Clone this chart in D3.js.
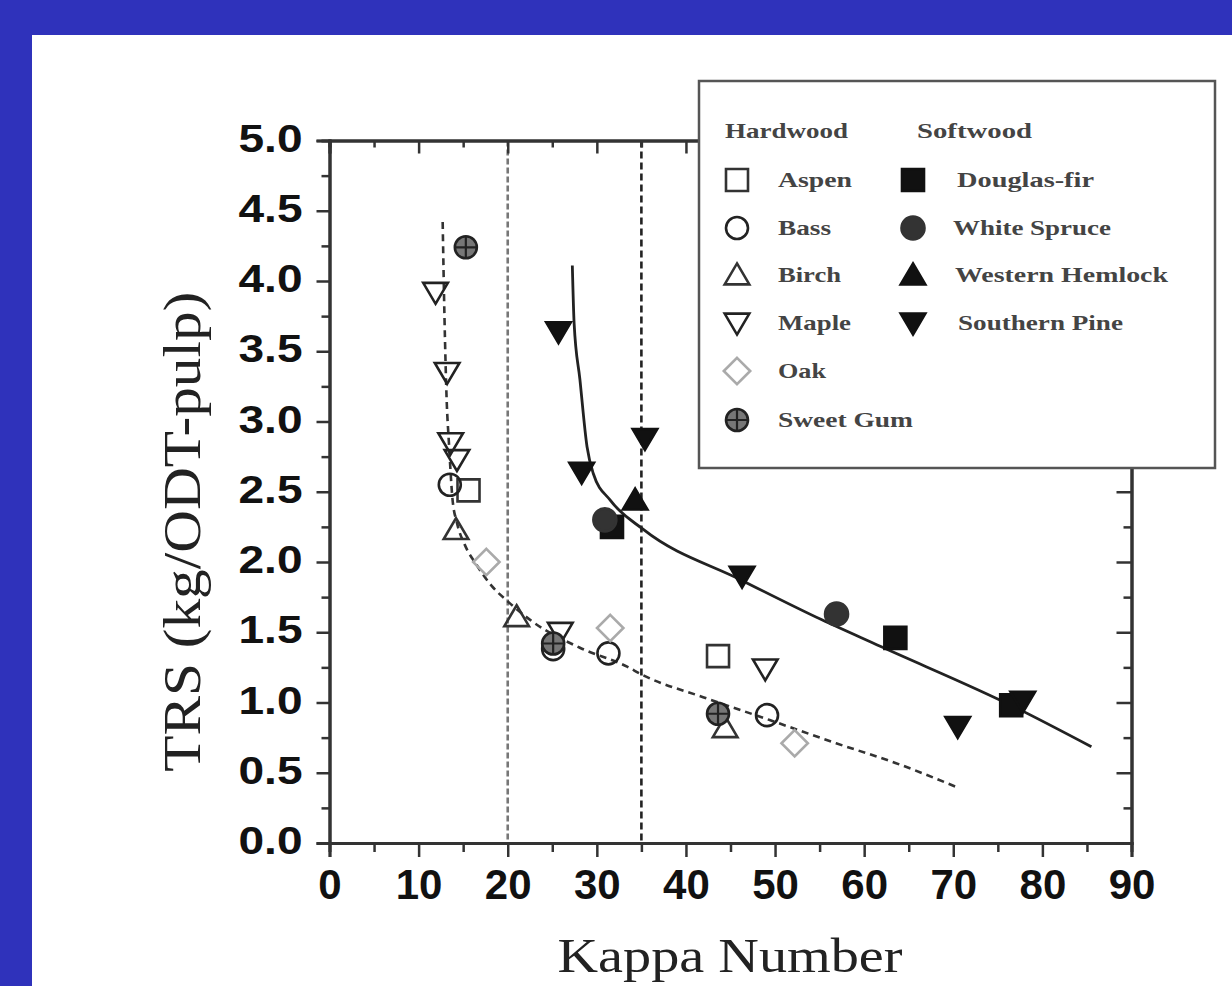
<!DOCTYPE html>
<html><head><meta charset="utf-8">
<script src="https://cdn.jsdelivr.net/npm/d3@7"></script>
<style>body{margin:0;background:#2f32bb}svg{display:block}</style>
</head><body>
<script>
// ---- data ----
const xTicks = [0,10,20,30,40,50,60,70,80,90];
const yTicks = [0,0.5,1,1.5,2,2.5,3,3.5,4,4.5,5];
const refLines = [20, 35];

const aspen = [[15.6,2.51],[43.6,1.33]];
const bass = [[13.5,2.55],[25.1,1.38],[31.3,1.35],[49.1,0.91]];
const birch = [[14.2,2.23],[21.0,1.61],[44.4,0.82]];
const maple = [[11.9,3.92],[13.2,3.35],[13.6,2.85],[14.3,2.73],[25.9,1.50],[48.9,1.24]];
const oak = [[17.6,2.0],[31.5,1.53],[52.2,0.71]];
const sweetGum = [[15.3,4.24],[25.1,1.42],[43.6,0.92]];
const douglasFir = [[31.7,2.25],[63.5,1.46],[76.5,0.98]];
const whiteSpruce = [[30.9,2.30],[56.9,1.63]];
const westernHemlock = [[34.3,2.44]];
const southernPine = [[25.7,3.64],[28.3,2.64],[35.4,2.88],[46.3,1.90],[70.5,0.83],[77.8,1.01]];

const hardwoodFit = [[12.7,4.42],[12.9,3.75],[13.15,3.15],[13.4,2.85],[13.8,2.45],[14.3,2.28],[15.2,2.12],[16.5,1.98],[18.2,1.83],[20,1.72],[22.9,1.57],[28.1,1.39],[33.4,1.255],[35,1.20],[42.3,1.03],[49.4,0.875],[56.85,0.71],[63.5,0.57],[70.3,0.40]];
const softwoodFit = [[27.25,4.11],[27.45,3.70],[28.1,3.30],[28.9,2.82],[29.6,2.63],[31.5,2.44],[35.25,2.23],[46.25,1.87],[55.2,1.59],[61.8,1.40],[76.8,0.97],[85.5,0.685]];

const hardwoodNames = ["Aspen","Bass","Birch","Maple","Oak","Sweet Gum"];
const softwoodNames = ["Douglas-fir","White Spruce","Western Hemlock","Southern Pine"];

// ---- drawing ----
const W = 1232, H = 986;
const svg = d3.select("body").append("svg").attr("width", W).attr("height", H);
svg.append("rect").attr("width", W).attr("height", H).attr("fill", "#2f32bb");
svg.append("rect").attr("x", 32).attr("y", 35).attr("width", W-32).attr("height", H-35).attr("fill", "#fff");

const x = d3.scaleLinear().domain([0,90]).range([329.5,1131.5]);
const y = d3.scaleLinear().domain([0,5]).range([843,140.5]);

// symbol path generators (centered at 0,0)
const sym = {
  square: s => `M${-s},${-s}H${s}V${s}H${-s}Z`,
  circle: s => `M${-s},0A${s},${s} 0 1,0 ${s},0A${s},${s} 0 1,0 ${-s},0Z`,
  up: s => `M0,${-s*1.05}L${s*1.12},${s*0.85}L${-s*1.12},${s*0.85}Z`,
  down: s => `M0,${s*1.05}L${s*1.12},${-s*0.85}L${-s*1.12},${-s*0.85}Z`,
  diamond: s => `M0,${-s*1.2}L${s*1.2},0L0,${s*1.2}L${-s*1.2},0Z`
};
const styles = {
  "Aspen": {shape:"square", size:11, fill:"none", stroke:"#333"},
  "Bass": {shape:"circle", size:11, fill:"none", stroke:"#222"},
  "Birch": {shape:"up", size:11, fill:"none", stroke:"#333"},
  "Maple": {shape:"down", size:11, fill:"none", stroke:"#222"},
  "Oak": {shape:"diamond", size:11, fill:"none", stroke:"#aaa"},
  "Sweet Gum": {shape:"circle", size:11, fill:"#777", stroke:"#222", cross:true},
  "Douglas-fir": {shape:"square", size:11, fill:"#111", stroke:"#111"},
  "White Spruce": {shape:"circle", size:11.5, fill:"#333", stroke:"#333"},
  "Western Hemlock": {shape:"up", size:11, fill:"#111", stroke:"#111"},
  "Southern Pine": {shape:"down", size:11, fill:"#111", stroke:"#111"}
};
function drawSym(g, name, cx, cy) {
  const st = styles[name];
  g.append("path").attr("d", sym[st.shape](st.size)).attr("transform", `translate(${cx},${cy})`)
    .attr("fill", st.fill).attr("stroke", st.stroke).attr("stroke-width", 2.6);
  if (st.cross) {
    g.append("path").attr("d", `M${cx-st.size},${cy}H${cx+st.size}M${cx},${cy-st.size}V${cy+st.size}`)
      .attr("stroke", "#222").attr("stroke-width", 2.2);
  }
}

// reference dashed lines
svg.append("line").attr("x1", x(refLines[0])).attr("x2", x(refLines[0])).attr("y1", y(5)).attr("y2", y(0))
  .attr("stroke", "#777").attr("stroke-width", 2.6).attr("stroke-dasharray", "6,3");
svg.append("line").attr("x1", x(refLines[1])).attr("x2", x(refLines[1])).attr("y1", y(5)).attr("y2", y(0))
  .attr("stroke", "#222").attr("stroke-width", 2.6).attr("stroke-dasharray", "7,4");

// fit curves
const line = d3.line().x(d => x(d[0])).y(d => y(d[1])).curve(d3.curveMonotoneX);
svg.append("path").attr("d", line(hardwoodFit)).attr("fill", "none").attr("stroke", "#333")
  .attr("stroke-width", 2.6).attr("stroke-dasharray", "7,5");
svg.append("path").attr("d", line(softwoodFit)).attr("fill", "none").attr("stroke", "#222").attr("stroke-width", 2.8);

// points
const series = [["Aspen",aspen],["Bass",bass],["Birch",birch],["Maple",maple],["Oak",oak],["Sweet Gum",sweetGum],
  ["Douglas-fir",douglasFir],["White Spruce",whiteSpruce],["Western Hemlock",westernHemlock],["Southern Pine",southernPine]];
const pts = svg.append("g");
series.forEach(([name, data]) => data.forEach(d => drawSym(pts, name, x(d[0]), y(d[1]))));

// axes
const minorY = d3.range(0.25, 5, 0.5);
const minorX = d3.range(5, 90, 10);
const axL = svg.append("g").attr("transform", `translate(${x(0)},0)`)
  .call(d3.axisLeft(y).tickValues(yTicks).tickSize(13).tickFormat(d3.format(".1f")).tickPadding(14));
svg.append("g").attr("transform", `translate(${x(0)},0)`).call(d3.axisLeft(y).tickValues(minorY).tickSize(8).tickFormat(""));
const axB = svg.append("g").attr("transform", `translate(0,${y(0)})`)
  .call(d3.axisBottom(x).tickValues(xTicks).tickSize(14).tickFormat(d3.format("d")).tickPadding(12));
svg.append("g").attr("transform", `translate(0,${y(0)})`).call(d3.axisBottom(x).tickValues(minorX).tickSize(9).tickFormat(""));
svg.append("g").attr("transform", `translate(0,${y(5)})`).call(d3.axisBottom(x).tickValues(minorX).tickSize(7).tickFormat(""));
svg.append("g").attr("transform", `translate(0,${y(5)})`).call(d3.axisBottom(x).tickValues(xTicks).tickSize(13).tickFormat(""));
svg.append("g").attr("transform", `translate(${x(90)},0)`).call(d3.axisLeft(y).tickValues(yTicks).tickSize(15).tickFormat(""));
svg.append("g").attr("transform", `translate(${x(90)},0)`).call(d3.axisLeft(y).tickValues(minorY).tickSize(8).tickFormat(""));
svg.selectAll(".domain").attr("stroke", "#333").attr("stroke-width", 3);
svg.selectAll(".tick line").attr("stroke", "#333").attr("stroke-width", 2.5);
axL.selectAll("text").attr("font-family", "Liberation Sans, Arial, sans-serif").attr("font-weight", "bold")
  .attr("font-size", 38).attr("fill", "#111").attr("textLength", 64).attr("lengthAdjust", "spacingAndGlyphs")
  .attr("dy", "0.28em");
axB.selectAll("text").attr("font-family", "Liberation Sans, Arial, sans-serif").attr("font-weight", "bold")
  .attr("font-size", 42).attr("fill", "#111");

// axis titles
svg.append("text").attr("x", 730).attr("y", 972).attr("text-anchor", "middle")
  .attr("font-family", "Liberation Serif, Times New Roman, serif").attr("font-size", 48).attr("fill", "#222")
  .attr("textLength", 345).attr("lengthAdjust", "spacingAndGlyphs").text("Kappa Number");
svg.append("text").attr("transform", `translate(200,${(y(0)+y(5))/2+40}) rotate(-90)`).attr("text-anchor", "middle")
  .attr("font-family", "Liberation Serif, Times New Roman, serif").attr("font-size", 52).attr("fill", "#222")
  .attr("textLength", 480).attr("lengthAdjust", "spacingAndGlyphs").text("TRS (kg/ODT-pulp)");

// legend
const lg = svg.append("g");
lg.append("rect").attr("x", 699).attr("y", 81).attr("width", 516).attr("height", 387)
  .attr("fill", "#fff").attr("stroke", "#555").attr("stroke-width", 2.5);
const lf = "Liberation Serif, Times New Roman, serif";
function ltext(tx, ty, s, len) {
  lg.append("text").attr("x", tx).attr("y", ty).attr("font-family", lf).attr("font-size", 22)
    .attr("font-weight", "bold").attr("fill", "#444").attr("textLength", len).attr("lengthAdjust", "spacingAndGlyphs").text(s);
}
ltext(725, 138, "Hardwood", 123);
ltext(917, 138, "Softwood", 115);
const rowY = [180, 228, 275, 323, 371, 420];
const hwLen = [74, 53, 63, 73, 48, 135];
const swLen = [137, 158, 213, 165];
const swTx = [957, 953, 955, 958];
hardwoodNames.forEach((n, i) => { drawSym(lg, n, 737, rowY[i]); ltext(778, rowY[i] + 7, n, hwLen[i]); });
softwoodNames.forEach((n, i) => { drawSym(lg, n, 913, rowY[i]); ltext(swTx[i], rowY[i] + 7, n, swLen[i]); });
</script>
</body></html>
